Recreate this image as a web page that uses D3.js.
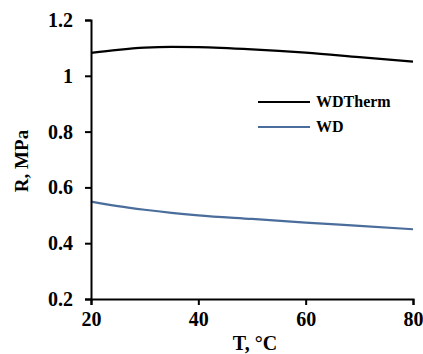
<!DOCTYPE html>
<html>
<head>
<meta charset="utf-8">
<script src="https://cdn.jsdelivr.net/npm/d3@7"></script>
<style>
  body { margin: 0; background: #fff; }
</style>
</head>
<body>
<div id="plot"></div>
<script>
var margin = {top: 20, right: 10, bottom: 55, left: 91};

var width = 423 - margin.left - margin.right,
    height = 354 - margin.top - margin.bottom;

var serif = 'Liberation Serif';

// data
var temps = [20, 25, 30, 35, 40, 50, 60, 70, 80];
var wdTherm = [1.082, 1.093, 1.101, 1.104, 1.103, 1.095, 1.083, 1.067, 1.051];
var wd = [0.549, 0.533, 0.520, 0.509, 0.500, 0.487, 0.474, 0.462, 0.450];
var seriesNames = ['WDTherm', 'WD'];
var seriesColors = ['#000000', '#4a6d9c'];
var xTicks = [20, 40, 60, 80];
var yTicks = [0.2, 0.4, 0.6, 0.8, 1, 1.2];

var series = [wdTherm, wd].map(function(vals, i) {
    return {name: seriesNames[i], color: seriesColors[i],
            values: temps.map(function(t, j) { return {t: t, r: vals[j]}; })};
});

// scales and axes
var xScale = d3.scaleLinear().domain([20, 80]).range([0, width]);
var yScale = d3.scaleLinear().domain([0.2, 1.2]).range([height, 0]);

var xAxis = d3.axisBottom(xScale).tickValues(xTicks).tickSize(6).tickPadding(7)
    .tickFormat(d3.format('d'));
var yAxis = d3.axisLeft(yScale).tickValues(yTicks).tickSize(6).tickPadding(12)
    .tickFormat(function(d) { return d3.format('')(d); });

var svg = d3.select('#plot').append('svg')
    .attr('width', 423).attr('height', 354)
    .attr('font-family', serif).attr('font-weight', 'bold');

var g = svg.append('g')
    .attr('transform', 'translate(' + margin.left + ',' + margin.top + ')');

var line = d3.line()
    .x(function(d) { return xScale(d.t); })
    .y(function(d) { return yScale(d.r); })
    .curve(d3.curveMonotoneX);

g.selectAll('.series').data(series).enter().append('path')
    .attr('class', 'series')
    .attr('fill', 'none')
    .attr('stroke', function(d) { return d.color; })
    .attr('stroke-width', 2.2)
    .attr('d', function(d) { return line(d.values); });

var gx = g.append('g').attr('transform', 'translate(0,' + height + ')').call(xAxis);
var gy = g.append('g').call(yAxis);

[gx, gy].forEach(function(ax) {
    ax.attr('font-family', serif).attr('font-size', 20).attr('font-weight', 'bold');
    ax.select('.domain').attr('stroke', '#000').attr('stroke-width', 2);
    ax.selectAll('.tick line').attr('stroke', '#000').attr('stroke-width', 2);
    ax.selectAll('.tick text').attr('fill', '#000');
});

// axis titles
svg.append('text')
    .attr('x', 255).attr('y', 350)
    .attr('text-anchor', 'middle')
    .attr('font-size', 20)
    .text('T, °C');

svg.append('text')
    .attr('transform', 'translate(28,' + 161 + ') rotate(-90)')
    .attr('text-anchor', 'middle')
    .attr('font-size', 19)
    .text('R, MPa');

// legend
var legend = svg.append('g').attr('transform', 'translate(258,102)');
var items = legend.selectAll('g').data(series).enter().append('g')
    .attr('transform', function(d, i) { return 'translate(0,' + (i * 25) + ')'; });
items.append('line')
    .attr('x1', 0).attr('x2', 52)
    .attr('stroke', function(d) { return d.color; })
    .attr('stroke-width', 2.2);
items.append('text')
    .attr('x', 58).attr('y', 5)
    .attr('font-size', 16)
    .text(function(d) { return d.name; });
</script>
</body>
</html>
